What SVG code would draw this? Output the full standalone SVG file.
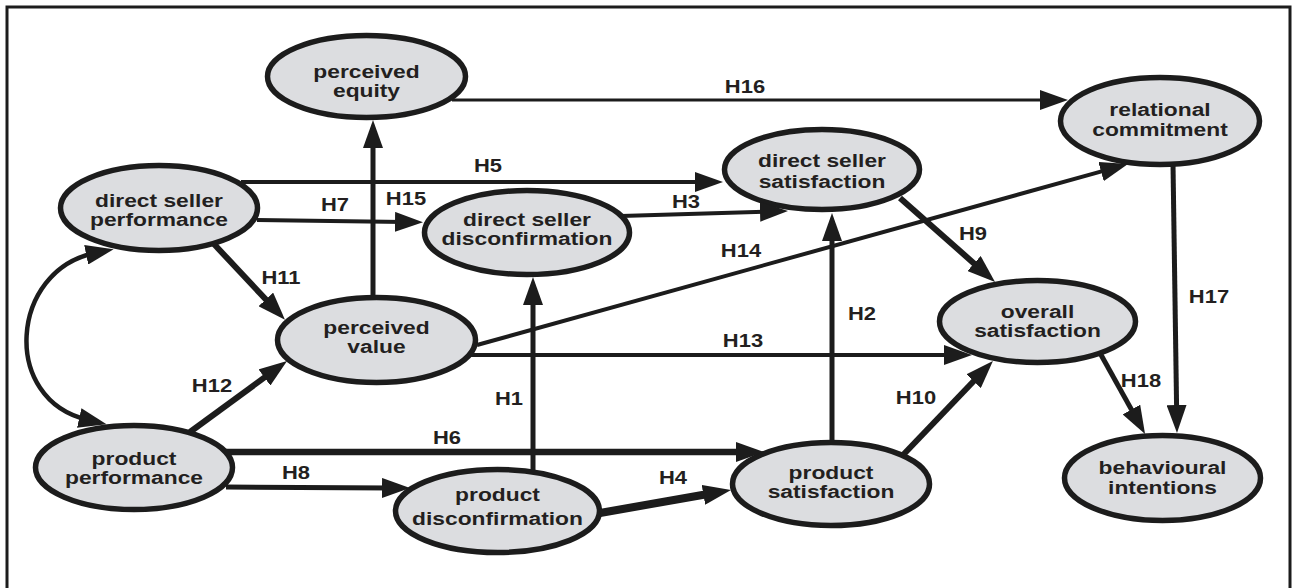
<svg xmlns="http://www.w3.org/2000/svg" width="1293" height="588" viewBox="0 0 1293 588">
  <style>
    .node ellipse { fill: #dcdde0; stroke: #1c1c1c; stroke-width: 5.5; }
    .node text { font-family: "Liberation Sans", Arial, sans-serif; font-weight: bold; font-size: 19px; fill: #231f20; text-anchor: middle; }
    .lbl { font-family: "Liberation Sans", Arial, sans-serif; font-weight: bold; font-size: 18px; fill: #231f20; text-anchor: middle; }
    .edge { fill: none; stroke: #1c1c1c; marker-end: url(#arrow); }
    .frame { fill: none; stroke: #1c1c1c; stroke-width: 3; }
  </style>
  <defs>
    <marker id="arrow" markerUnits="userSpaceOnUse" markerWidth="28" markerHeight="20" refX="9" refY="10" orient="auto-start-reverse">
      <path d="M0,0 L28,10 L0,20 Z" fill="#1c1c1c"/>
    </marker>
  </defs>

  <rect width="1293" height="588" fill="#ffffff"/>
  <path class="frame" d="M7,588 V7 H1290 V588"/>

  <!-- nodes -->
  <g id="perceived-equity" class="node">
    <ellipse cx="366.5" cy="76.5" rx="99" ry="41"/>
    <text transform="translate(366.5 0) scale(1.2 1)"><tspan x="0" y="78">perceived</tspan><tspan x="0" y="97">equity</tspan></text>
  </g>
  <g id="relational-commitment" class="node">
    <ellipse cx="1160" cy="121" rx="99.5" ry="43.5"/>
    <text transform="translate(1160 0) scale(1.2 1)"><tspan x="0" y="116">relational</tspan><tspan x="0" y="136">commitment</tspan></text>
  </g>
  <g id="direct-seller-performance" class="node">
    <ellipse cx="159" cy="208" rx="98.5" ry="42.5"/>
    <text transform="translate(159 0) scale(1.2 1)"><tspan x="0" y="207">direct seller</tspan><tspan x="0" y="226">performance</tspan></text>
  </g>
  <g id="direct-seller-disconfirmation" class="node">
    <ellipse cx="527" cy="232.5" rx="102.5" ry="42"/>
    <text transform="translate(527 0) scale(1.2 1)"><tspan x="0" y="226">direct seller</tspan><tspan x="0" y="245">disconfirmation</tspan></text>
  </g>
  <g id="direct-seller-satisfaction" class="node">
    <ellipse cx="822" cy="169.5" rx="97.5" ry="40"/>
    <text transform="translate(822 0) scale(1.2 1)"><tspan x="0" y="167">direct seller</tspan><tspan x="0" y="188">satisfaction</tspan></text>
  </g>
  <g id="perceived-value" class="node">
    <ellipse cx="376.5" cy="340" rx="99" ry="42.5"/>
    <text transform="translate(376.5 0) scale(1.2 1)"><tspan x="0" y="334">perceived</tspan><tspan x="0" y="353">value</tspan></text>
  </g>
  <g id="overall-satisfaction" class="node">
    <ellipse cx="1037.5" cy="321.5" rx="98" ry="41"/>
    <text transform="translate(1037.5 0) scale(1.2 1)"><tspan x="0" y="318">overall</tspan><tspan x="0" y="337">satisfaction</tspan></text>
  </g>
  <g id="product-performance" class="node">
    <ellipse cx="134" cy="467.5" rx="98.5" ry="42"/>
    <text transform="translate(134 0) scale(1.2 1)"><tspan x="0" y="465">product</tspan><tspan x="0" y="484">performance</tspan></text>
  </g>
  <g id="product-disconfirmation" class="node">
    <ellipse cx="497.5" cy="511" rx="102" ry="41.5"/>
    <text transform="translate(497.5 0) scale(1.2 1)"><tspan x="0" y="501">product</tspan><tspan x="0" y="525">disconfirmation</tspan></text>
  </g>
  <g id="product-satisfaction" class="node">
    <ellipse cx="831" cy="484" rx="98.5" ry="41.5"/>
    <text transform="translate(831 0) scale(1.2 1)"><tspan x="0" y="479">product</tspan><tspan x="0" y="498">satisfaction</tspan></text>
  </g>
  <g id="behavioural-intentions" class="node">
    <ellipse cx="1162.5" cy="478" rx="98" ry="42.5"/>
    <text transform="translate(1162.5 0) scale(1.2 1)"><tspan x="0" y="474">behavioural</tspan><tspan x="0" y="494">intentions</tspan></text>
  </g>

  <!-- connectors -->
  <g id="connectors">
    <line class="edge" x1="452" y1="100" x2="1049" y2="100" stroke-width="3"/>
    <line class="edge" x1="241" y1="182" x2="704" y2="182" stroke-width="4"/>
    <line class="edge" x1="257" y1="220" x2="404" y2="222" stroke-width="4"/>
    <line class="edge" x1="373" y1="297" x2="373" y2="139" stroke-width="5"/>
    <line class="edge" x1="621" y1="216" x2="769" y2="211.5" stroke-width="4"/>
    <line class="edge" x1="832" y1="442" x2="832" y2="232" stroke-width="5"/>
    <line class="edge" x1="533" y1="472" x2="533" y2="296" stroke-width="5"/>
    <line class="edge" x1="477" y1="345" x2="1109.7" y2="169.1" stroke-width="4"/>
    <line class="edge" x1="469" y1="355" x2="953" y2="355" stroke-width="4"/>
    <line class="edge" x1="900" y1="198" x2="980.8" y2="269.4" stroke-width="6"/>
    <line class="edge" x1="903" y1="455" x2="979.8" y2="374.7" stroke-width="6"/>
    <line class="edge" x1="1173" y1="164" x2="1176.7" y2="414" stroke-width="5"/>
    <line class="edge" x1="1100" y1="353" x2="1135.8" y2="417.4" stroke-width="5"/>
    <line class="edge" x1="213" y1="243" x2="272" y2="306" stroke-width="6"/>
    <line class="edge" x1="190" y1="432" x2="271.7" y2="372.2" stroke-width="6"/>
    <line class="edge" x1="226" y1="452" x2="745" y2="452" stroke-width="6.5"/>
    <line class="edge" x1="226" y1="487" x2="391" y2="488" stroke-width="5"/>
    <line class="edge" x1="600" y1="513" x2="712.3" y2="493.3" stroke-width="8"/>
    <path class="edge" d="M95,253 C10,270 0,400 88,420" stroke-width="4.5" marker-start="url(#arrow)"/>
  </g>

  <!-- hypothesis labels -->
  <g id="labels">
    <text class="lbl" transform="translate(745 93) scale(1.22 1)">H16</text>
    <text class="lbl" transform="translate(488 172) scale(1.22 1)">H5</text>
    <text class="lbl" transform="translate(406 205) scale(1.22 1)">H15</text>
    <text class="lbl" transform="translate(335 211) scale(1.22 1)">H7</text>
    <text class="lbl" transform="translate(686 208) scale(1.22 1)">H3</text>
    <text class="lbl" transform="translate(741 257) scale(1.22 1)">H14</text>
    <text class="lbl" transform="translate(973 240) scale(1.22 1)">H9</text>
    <text class="lbl" transform="translate(281 284) scale(1.22 1)">H11</text>
    <text class="lbl" transform="translate(1209 303) scale(1.22 1)">H17</text>
    <text class="lbl" transform="translate(862 320) scale(1.22 1)">H2</text>
    <text class="lbl" transform="translate(743 347) scale(1.22 1)">H13</text>
    <text class="lbl" transform="translate(212 392) scale(1.22 1)">H12</text>
    <text class="lbl" transform="translate(509 405) scale(1.22 1)">H1</text>
    <text class="lbl" transform="translate(916 404) scale(1.22 1)">H10</text>
    <text class="lbl" transform="translate(1141 387) scale(1.22 1)">H18</text>
    <text class="lbl" transform="translate(447 444) scale(1.22 1)">H6</text>
    <text class="lbl" transform="translate(296 479) scale(1.22 1)">H8</text>
    <text class="lbl" transform="translate(673 484) scale(1.22 1)">H4</text>
  </g>
</svg>
